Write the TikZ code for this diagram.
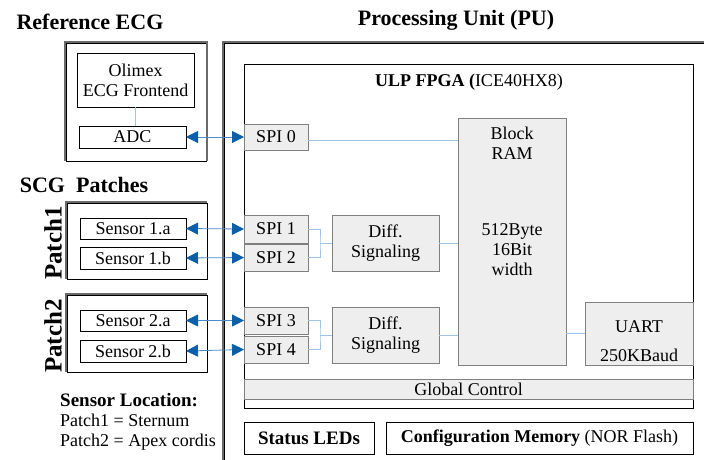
\documentclass[tikz,border=0pt]{standalone}
\usepackage{fontspec}
\setmainfont{Liberation Serif}
\usetikzlibrary{arrows.meta}

\definecolor{boxgray}{HTML}{EEEEEE}
\definecolor{edgegray}{HTML}{7F7F7F}
\definecolor{halogray}{HTML}{6A6A6A}
\definecolor{linkblue}{HTML}{9DC3E6}
\definecolor{tipblue}{HTML}{0B5FA8}
\definecolor{shaftblue}{HTML}{4A8BC9}

\tikzset{
  base/.style={inner sep=0pt, outer sep=0pt, anchor=north west, align=center,
               font=\fontsize{18}{20}\selectfont},
  whitebox/.style={base, draw=black, line width=0.9pt, fill=white},
  graybox/.style={base, draw=edgegray, line width=0.9pt, fill=boxgray},
  frame/.style={base, draw=black, line width=0.9pt},
  framehalo/.style={draw=halogray, line width=2pt},
  link/.style={draw=linkblue, line width=1pt},
  biarrow/.style={draw=shaftblue, line width=0.8pt,
    {Triangle[length=12pt,width=12pt,color=tipblue]}-{Triangle[length=12pt,width=12pt,color=tipblue]}},
  title/.style={inner sep=0pt, font=\bfseries\fontsize{22}{24}\selectfont},
  txt/.style={inner sep=0pt, align=center, font=\fontsize{18}{20}\selectfont},
}

\begin{document}
\begin{tikzpicture}[x=1pt, y=-1pt]
  \useasboundingbox (0,0) rectangle (704,459);
  \clip (0,0) rectangle (704,459);
  \fill[white] (0,0) rectangle (704,459);

  % ---------- titles ----------
  \node[title] (reftitle) at (90,22) {Reference ECG};
  \node[title] (putitle) at (456,20) {Processing Unit (PU)};
  \node[title] (scgtitle) at (84,185) {SCG\ \ Patches};

  % ---------- reference ECG ----------
  \node[frame, minimum width=140, minimum height=118] (ref) at (66,43) {};
  \draw[framehalo] ([xshift=-1.4pt]ref.south west) -- ([xshift=-1.4pt,yshift=1.4pt]ref.north west)
                   -- ([xshift=1.4pt,yshift=1.4pt]ref.north east) -- ([xshift=1.4pt]ref.south east);
  \node[whitebox, minimum width=117, minimum height=54] (olimex) at (77,53) {Olimex\\ECG Frontend};
  \node[whitebox, minimum width=107, minimum height=22] (adc) at (79,126) {ADC};

  % ---------- SCG patches ----------
  \node[frame, minimum width=140, minimum height=76] (patch1) at (67,203) {};
  \draw[framehalo] ([xshift=-1.4pt]patch1.south west) -- ([xshift=-1.4pt,yshift=1.4pt]patch1.north west)
                   -- ([yshift=1.4pt]patch1.north east);
  \node[whitebox, minimum width=106, minimum height=21] (s1a) at (80,218) {Sensor 1.a};
  \node[whitebox, minimum width=106, minimum height=22] (s1b) at (80,247) {Sensor 1.b};
  \node[inner sep=0pt, rotate=90, font=\bfseries\fontsize{25}{25}\selectfont] (p1label) at (53,243) {Patch1};

  \node[frame, minimum width=140, minimum height=77] (patch2) at (67,295) {};
  \draw[framehalo] ([xshift=-1.4pt]patch2.south west) -- ([xshift=-1.4pt,yshift=1.4pt]patch2.north west)
                   -- ([yshift=1.4pt]patch2.north east);
  \node[whitebox, minimum width=106, minimum height=21] (s2a) at (80,310) {Sensor 2.a};
  \node[whitebox, minimum width=106, minimum height=22] (s2b) at (80,340) {Sensor 2.b};
  \node[inner sep=0pt, rotate=90, font=\bfseries\fontsize{25}{25}\selectfont] (p2label) at (53,336) {Patch2};

  \node[inner sep=0pt, anchor=west, align=left, font=\fontsize{18}{20}\selectfont] (location) at (60,422)
    {{\bfseries\fontsize{19}{20}\selectfont Sensor Location:}\\Patch1 = Sternum\\Patch2 = Apex cordis};

  % ---------- processing unit ----------
  \node[frame, minimum width=520, minimum height=440] (pu) at (224,43) {};
  \draw[framehalo] ([xshift=-1.4pt]pu.south west) -- ([xshift=-1.4pt,yshift=1.4pt]pu.north west)
                   -- ([yshift=1.4pt]pu.north east);

  \node[frame, minimum width=449, minimum height=344] (fpga) at (244,64) {};
  \node[txt] (fpgatitle) at (469,82) {\textbf{ULP FPGA (}ICE40HX8)};

  \node[graybox, minimum width=64, minimum height=26] (spi0) at (244,124) {SPI 0};
  \node[graybox, minimum width=64, minimum height=28] (spi1) at (244,215) {SPI 1};
  \node[graybox, minimum width=64, minimum height=27] (spi2) at (244,244) {SPI 2};
  \node[graybox, minimum width=64, minimum height=27] (spi3) at (244,307) {SPI 3};
  \node[graybox, minimum width=64, minimum height=27] (spi4) at (244,336) {SPI 4};

  \node[graybox, minimum width=107, minimum height=56] (diff1) at (332,215) {Diff.\\Signaling};
  \node[graybox, minimum width=107, minimum height=56] (diff2) at (332,307) {Diff.\\Signaling};

  \node[graybox, minimum width=108, minimum height=247] (bram) at (458,118) {};
  \node[txt] (bramname) at (512,143) {Block\\RAM};
  \node[txt] (bramsize) at (512,250) {512Byte\\16Bit\\width};

  \node[graybox, minimum width=108, minimum height=63] (uart) at (585,302) {};
  \node[txt] (uartname) at (639,327) {UART};
  \node[txt] (uartbaud) at (639,355) {250KBaud};

  \node[graybox, minimum width=449, minimum height=20] (gctrl) at (244,379) {Global Control};

  \node[whitebox, minimum width=130, minimum height=32, font=\bfseries\fontsize{19}{20}\selectfont] (leds) at (244,422) {Status LEDs};
  \node[whitebox, minimum width=307, minimum height=32] (config) at (386,422) {\textbf{Configuration Memory} (NOR Flash)};

  % ---------- internal links ----------
  \draw[link] (olimex.south) -- (olimex.south |- adc.north);
  \draw[link] ([yshift=-3pt]spi0.east) -- ([yshift=-3pt]spi0.east -| bram.west);

  \coordinate (fork1) at (320,243);
  \draw[link] (spi1.east) -| (fork1) |- (spi2.east);
  \draw[link] (fork1) -- (diff1.west);
  \draw[link] (diff1.east) -- (diff1.east -| bram.west);

  \coordinate (fork2) at (320,335);
  \draw[link] (spi3.east) -| (fork2) |- (spi4.east);
  \draw[link] (fork2) -- (diff2.west);
  \draw[link] (diff2.east) -- (diff2.east -| bram.west);

  \draw[link] (bram.east |- uart.west) -- (uart.west);

  % ---------- SPI connections ----------
  \draw[biarrow] (adc.east) -- (spi0.west);
  \draw[biarrow] (s1a.east) -- (spi1.west);
  \draw[biarrow] (s1b.east) -- (spi2.west);
  \draw[biarrow] (s2a.east) -- (spi3.west);
  \draw[biarrow] (s2b.east) -- (spi4.west);
\end{tikzpicture}
\end{document}
